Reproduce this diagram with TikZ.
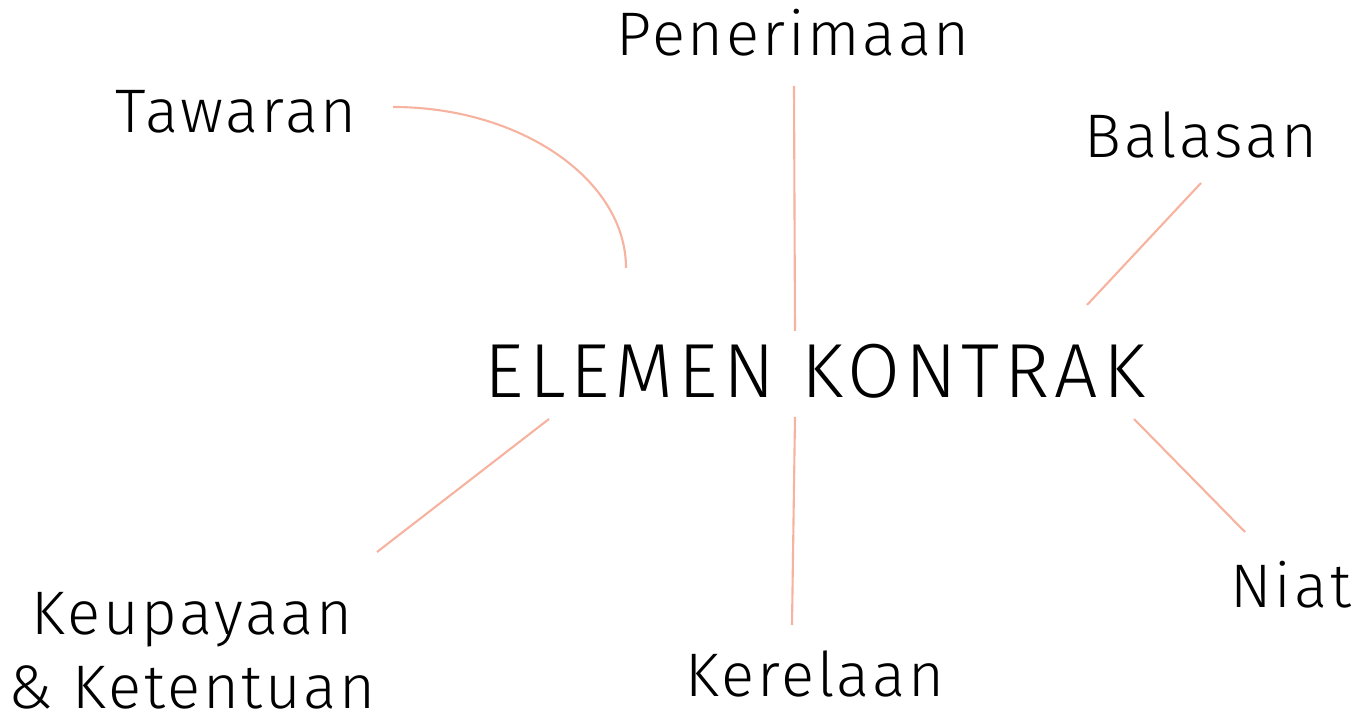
\documentclass[tikz,border=0pt]{standalone}
\usepackage{fontspec}
\setmainfont{Fira Sans Light}
\newfontfamily\hubfont{Fira Sans Light}[LetterSpace=6.5]
\newfontfamily\labfont{Fira Sans Light}[LetterSpace=4.5]
\usetikzlibrary{calc}
\definecolor{ink}{HTML}{000000}
\definecolor{salmon}{HTML}{F6B3A0}
\tikzset{
  link/.style={draw=salmon, line width=0.6pt},
  lab/.style={text=ink, font=\labfont\fontsize{17.5}{20.8}\selectfont, inner sep=0pt, align=center},
  hub/.style={text=ink, font=\hubfont\fontsize{21.8}{26}\selectfont, inner sep=0pt},
}

\begin{document}
\begin{tikzpicture}[x=0.01cm, y=-0.01cm]
  \useasboundingbox (0,0) rectangle (1357,716);

  \node[hub,anchor=base] (hub) at (815,398) {ELEMEN KONTRAK};
  \node[lab,anchor=base] (tawaran) at (236,133) {Tawaran};
  \node[lab,anchor=base] (terima) at (793,56) {Penerimaan};
  \node[lab,anchor=base] (balasan) at (1201,158) {Balasan};
  \node[lab,anchor=base] (niat) at (1291,608) {Niat};
  \node[lab,anchor=base] (rela) at (815,697) {Kerelaan};
  \node[lab,anchor=north] (upaya) at (192,592) {Keupayaan\\\& Ketentuan};

  % free ends of the links
  \coordinate (t1) at (393,107);
  \coordinate (t2) at (626,268);
  \coordinate (p1) at (794,86);
  \coordinate (p2) at (795,331);
  \coordinate (b1) at (1201,183);
  \coordinate (b2) at (1087,305);
  \coordinate (n1) at (1134,419);
  \coordinate (n2) at (1245,532);
  \coordinate (r1) at (795,417);
  \coordinate (r2) at (792,625);
  \coordinate (u1) at (549,419);
  \coordinate (u2) at (377,552);

  \draw[link] (t1) .. controls (521,107) and (626,180) .. (t2);
  \draw[link] (p1) -- (p2);
  \draw[link] (b1) -- (b2);
  \draw[link] (n1) -- (n2);
  \draw[link] (r1) -- (r2);
  \draw[link] (u1) -- (u2);
\end{tikzpicture}
\end{document}
